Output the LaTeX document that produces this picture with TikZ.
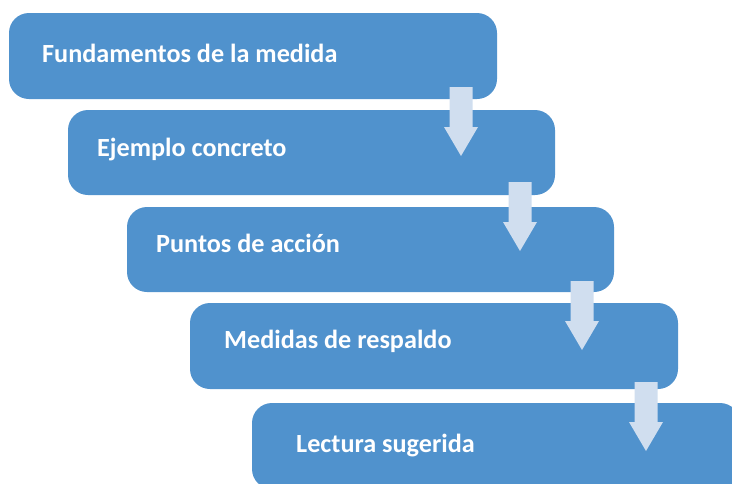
\documentclass[tikz,border=0pt]{standalone}
\usepackage{fontspec}
\setmainfont{Carlito}
\definecolor{boxblue}{RGB}{80,146,205}
\definecolor{arrowblue}{RGB}{208,222,239}
\begin{document}
\begin{tikzpicture}[x=1pt,y=-1pt,
  stepbox/.style={fill=boxblue,rounded corners=20pt,draw=none},
  steptext/.style={anchor=base west,text=white,font=\bfseries\fontsize{26.2}{30}\selectfont,inner sep=0pt},
  downarrow/.style={fill=arrowblue,draw=none}]
\useasboundingbox (0,0) rectangle (732,483);
\begin{scope}
\clip (0,0) rectangle (732,483);
\path[stepbox] (9,13) rectangle (497,99);
\path[stepbox] (68,110) rectangle (555,195);
\path[stepbox] (127,207) rectangle (614,292);
\path[stepbox] (190,303) rectangle (678,389);
\path[stepbox] (252,403) rectangle (740,489);
\node[steptext] (t1) at (42,62) {Fundamentos de la medida};
\node[steptext] (t2) at (97,156) {Ejemplo concreto};
\node[steptext] (t3) at (156,252) {Puntos de acción};
\node[steptext] (t4) at (224,348) {Medidas de respaldo};
\node[steptext] (t5) at (296,452) {Lectura sugerida};
\foreach \cx/\ty in {461/87,520/182,582/281,646/382}{
  \path[downarrow] (\cx-11.5,\ty) -- (\cx+11.5,\ty) -- (\cx+11.5,\ty+40) -- (\cx+17,\ty+40)
    -- (\cx,\ty+69) -- (\cx-17,\ty+40) -- (\cx-11.5,\ty+40) -- cycle;
}
\end{scope}
\end{tikzpicture}
\end{document}
